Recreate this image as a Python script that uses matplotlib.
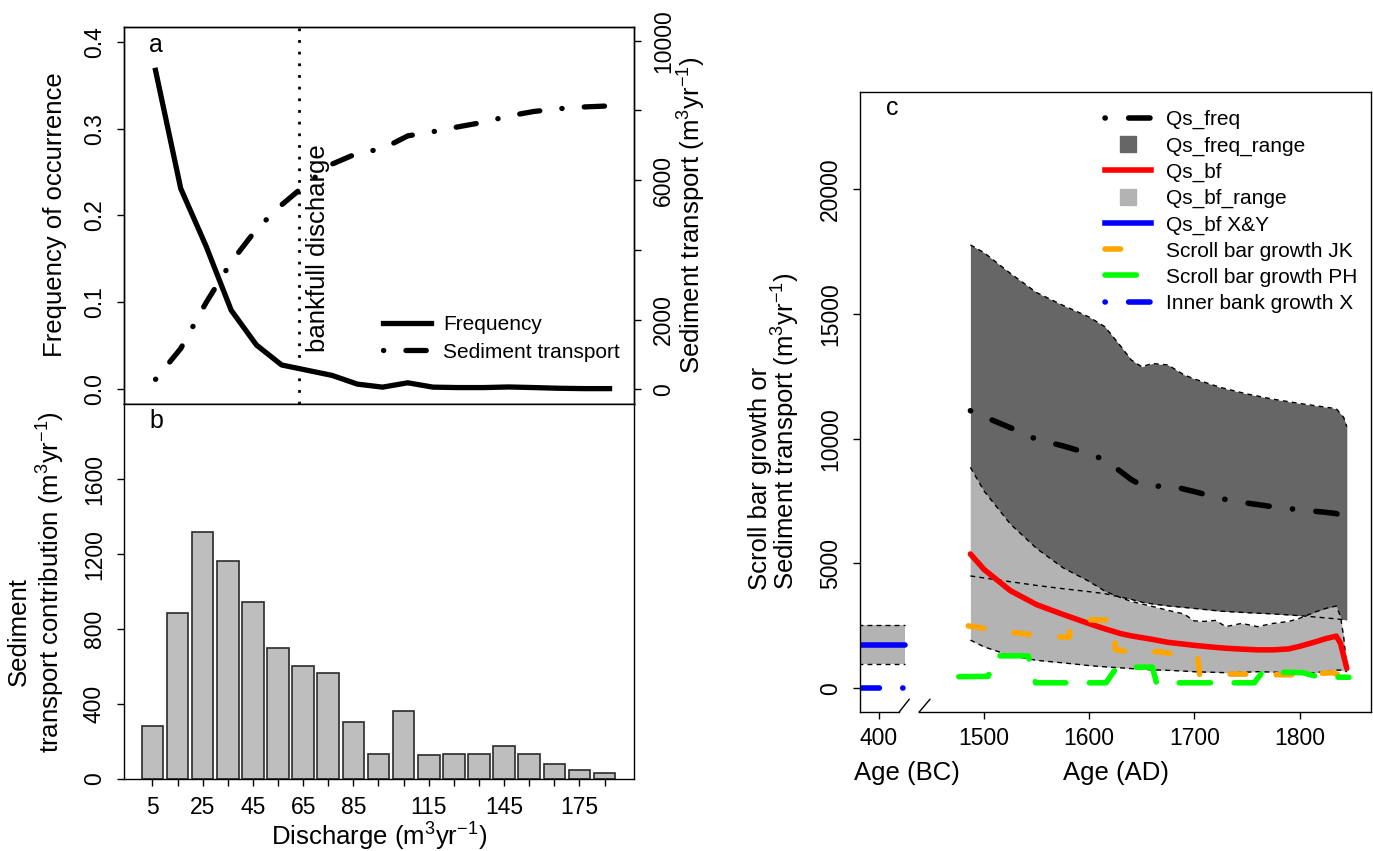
import numpy as np
import matplotlib
matplotlib.use("Agg")
import matplotlib.pyplot as plt
from matplotlib.lines import Line2D

plt.rcParams['font.family'] = ['Liberation Sans', 'DejaVu Sans']
plt.rcParams['mathtext.fontset'] = 'custom'
plt.rcParams['mathtext.rm'] = 'Liberation Sans'
plt.rcParams['mathtext.it'] = 'Liberation Sans:italic'
plt.rcParams['axes.linewidth'] = 1.0

# ---- panel a / b : discharge classes ----
discharge = [5, 15, 25, 35, 45, 55, 65, 75, 85, 95, 105, 115, 125, 135, 145, 155, 165, 175, 185]
freq = [0.367, 0.231, 0.165, 0.091, 0.051, 0.028, 0.022, 0.016, 0.006, 0.0025, 0.0075,
        0.0025, 0.002, 0.002, 0.0027, 0.002, 0.0012, 0.0008, 0.0008]
sed_cum = [285, 1170, 2480, 3650, 4590, 5290, 5900, 6460, 6770, 6900, 7270, 7390,
           7530, 7660, 7840, 7970, 8050, 8100, 8130]
sed_contrib = [283, 885, 1316, 1166, 944, 700, 603, 565, 306, 135, 364, 126,
               133, 133, 178, 133, 82, 46, 30]
bankfull = 62
xlab_b = [5, 25, 45, 65, 85, 115, 145, 175]

# ---- panel c : sediment transport through time ----
freq_years = [1487, 1500, 1525, 1550, 1575, 1600, 1615, 1630, 1640, 1650, 1660, 1675,
              1690, 1700, 1725, 1750, 1775, 1800, 1825, 1835, 1842, 1845]
qs_freq = [11120, 10880, 10440, 9970, 9710, 9400, 9140, 8680, 8360, 8130, 8070, 8140,
           7980, 7880, 7600, 7420, 7270, 7150, 7050, 7000, 6850, 6680]
qs_freq_hi = [17760, 17450, 16620, 15850, 15340, 14870, 14480, 13700, 13150, 12880, 13010,
              12950, 12560, 12390, 12050, 11790, 11580, 11410, 11260, 11200, 10850, 10480]
qs_freq_lo = [4500, 4420, 4270, 4120, 3990, 3870, 3790, 3650, 3560, 3450, 3380, 3300,
              3240, 3200, 3090, 3030, 2980, 2910, 2820, 2780, 2750, 2740]

bf_years = [1487, 1500, 1525, 1550, 1575, 1600, 1615, 1630, 1640, 1650, 1660, 1675, 1690,
            1700, 1710, 1720, 1730, 1745, 1760, 1775, 1790, 1800, 1815, 1825, 1835, 1839,
            1842, 1845]
qs_bf = [5380, 4760, 3910, 3350, 2960, 2590, 2380, 2190, 2100, 2030, 1960, 1840, 1770,
         1720, 1680, 1640, 1605, 1570, 1540, 1540, 1580, 1680, 1860, 1990, 2090, 1800,
         1300, 800]
qs_bf_hi = [8850, 7900, 6580, 5600, 4830, 4280, 3890, 3630, 3480, 3380, 3280, 3120, 2980,
            2700, 2680, 2720, 2470, 2600, 2470, 2600, 2680, 2800, 3060, 3200, 3300, 2870,
            2070, 800]
qs_bf_lo = [1930, 1660, 1310, 1120, 1020, 910, 860, 820, 790, 760, 740, 720, 690, 665,
            650, 640, 625, 640, 665, 650, 625, 625, 625, 680, 730, 730, 700, 665]

jk_years = [1485, 1505, 1530, 1555, 1581, 1583, 1623, 1625, 1643, 1667, 1685, 1703, 1705,
            1745, 1790, 1832, 1847]
jk_growth = [2500, 2370, 2220, 2100, 2040, 2740, 2740, 1550, 1430, 1470, 1335, 1300, 560,
             570, 540, 625, 370]
ph_years = [1476, 1504, 1512, 1542, 1549, 1616, 1626, 1660, 1664, 1757, 1765, 1803, 1818, 1847]
ph_growth = [465, 480, 1300, 1300, 220, 220, 830, 850, 220, 220, 665, 625, 460, 440]

bc_years = [1380, 1425]
qs_bf_xy = [1750, 1750]
qs_bf_xy_lo = [970, 970]
qs_bf_xy_hi = [2520, 2520]
inner_x = [0, 0]

# ---- layout helpers (pixel positions on a 1373 x 851 canvas) ----
W, H = 1373, 851
fig = plt.figure(figsize=(W / 100, H / 100), dpi=100)


def fx(px):
    return px / W


def fy(py):
    return 1 - py / H


def rect(l, t, r, b):
    return [fx(l), fy(b), (r - l) / W, (b - t) / H]


TICK = 16.5
LAB = 18.5
dotdash = (0, (0.05, 4.2, 3.85, 4.2))

# ---------------- panel a ----------------
ax_a = fig.add_axes(rect(124, 27, 634, 404))
ax_a.plot(discharge, freq, color='black', lw=3.8, solid_joinstyle='round',
          label='Frequency')
ax_a.axvline(bankfull, color='black', lw=2.0, linestyle=(0, (1, 3.2)))
ax_a.set_xlim(-7.5, 194.7)
ax_a.set_ylim(-0.0169, 0.4169)
ax_a.set_yticks([0, 0.1, 0.2, 0.3, 0.4])
ax_a.set_yticklabels(['0.0', '0.1', '0.2', '0.3', '0.4'])
ax_a.tick_params(axis='y', direction='out', length=5, width=1, labelsize=TICK, pad=8)
ax_a.tick_params(axis='x', bottom=False, labelbottom=False)
plt.setp(ax_a.get_yticklabels(), rotation=90, va='center')

ax_a2 = ax_a.twinx()
ax_a2.plot(discharge, sed_cum, color='black', lw=3.8, linestyle=dotdash,
           dash_capstyle='round', label='Sediment transport')
ax_a2.set_ylim(-422, 10393)
ax_a2.set_yticks([0, 2000, 4000, 6000, 8000, 10000])
ax_a2.set_yticklabels(['0', '2000', '', '6000', '', '10000'])
ax_a2.tick_params(axis='y', direction='out', length=5, width=1, labelsize=TICK, pad=8)
plt.setp(ax_a2.get_yticklabels(), rotation=90, va='center')

h_a = [Line2D([], [], color='black', lw=3.8),
       Line2D([], [], color='black', lw=3.8, linestyle=dotdash, dash_capstyle='round')]
ax_a2.legend(h_a, ['Frequency', 'Sediment transport'], loc='upper left',
             bbox_to_anchor=(fx(383), fy(315)), bbox_transform=fig.transFigure,
             frameon=False, fontsize=15, borderpad=0, borderaxespad=0,
             handlelength=2.3, handletextpad=0.6, labelspacing=0.42)

fig.text(fx(156), fy(45), 'a', fontsize=18, ha='center', va='center')
fig.text(fx(318), fy(248), 'bankfull discharge', fontsize=LAB, rotation=90,
         ha='center', va='center')
fig.text(fx(55), fy(215), 'Frequency of occurrence', fontsize=LAB, rotation=90,
         ha='center', va='center')
fig.text(fx(692), fy(215), r'Sediment transport (m$^3$yr$^{-1}$)', fontsize=LAB,
         rotation=90, ha='center', va='center')

# ---------------- panel b ----------------
ax_b = fig.add_axes(rect(124, 404, 634, 779))
ax_b.bar(discharge, sed_contrib, width=8.6, color='#BEBEBE', edgecolor='#2b2b2b',
         linewidth=1.2)
ax_b.set_xlim(-6.3, 196.7)
ax_b.set_ylim(0, 2002)
ax_b.set_yticks([0, 400, 800, 1200, 1600])
ax_b.set_xticks(discharge)
ax_b.set_xticklabels([str(d) if d in xlab_b else '' for d in discharge])
ax_b.tick_params(direction='out', length=5, width=1, labelsize=TICK)
ax_b.tick_params(axis='y', pad=8)
ax_b.tick_params(axis='x', pad=7)
plt.setp(ax_b.get_yticklabels(), rotation=90, va='center')

fig.text(fx(156), fy(421), 'b', fontsize=18, ha='center', va='center')
fig.text(fx(18.5), fy(632), 'Sediment', fontsize=LAB, rotation=90, ha='center', va='center')
fig.text(fx(50.8), fy(582), r'transport contribution (m$^3$yr$^{-1}$)', fontsize=LAB,
         rotation=90, ha='center', va='center')
fig.text(fx(379), fy(837), r'Discharge (m$^3$yr$^{-1}$)', fontsize=LAB,
         ha='center', va='center')

# ---------------- panel c ----------------
ax_c = fig.add_axes(rect(860, 92, 1371, 712))
ax_c.set_xlim(1382, 1868)
ax_c.set_ylim(-949, 23885)

ax_c.fill_between(freq_years, qs_freq_lo, qs_freq_hi, color='#666666', lw=0)
ax_c.fill_between(bf_years, qs_bf_lo, qs_bf_hi, color='#B3B3B3', lw=0)
ax_c.fill_between(bc_years, qs_bf_xy_lo, qs_bf_xy_hi, color='#B3B3B3', lw=0)
thin = dict(color='black', lw=1.0, linestyle=(0, (3.5, 3)))
for ys in (qs_freq_hi, qs_freq_lo):
    ax_c.plot(freq_years, ys, **thin)
for ys in (qs_bf_hi, qs_bf_lo):
    ax_c.plot(bf_years, ys, **thin)
for ys in (qs_bf_xy_lo, qs_bf_xy_hi):
    ax_c.plot(bc_years, ys, **thin)

ax_c.plot(freq_years, qs_freq, color='black', lw=4, linestyle=dotdash,
          dash_capstyle='round')
ax_c.plot(bf_years, qs_bf, color='#FF0000', lw=4, solid_capstyle='round')
ax_c.plot(jk_years, jk_growth, color='#FFA500', lw=4, linestyle=(0, (2.8, 5.5)),
          dash_capstyle='round')
ax_c.plot(ph_years, ph_growth, color='#00FF00', lw=4, linestyle=(0, (5.65, 4.24)),
          dash_capstyle='round')
ax_c.plot(bc_years, qs_bf_xy, color='#0000FF', lw=4, solid_capstyle='round')
ax_c.plot(bc_years, inner_x, color='#0000FF', lw=4, linestyle=(4.25, (0.05, 4.2, 3.85, 4.2)),
          dash_capstyle='round')

ax_c.set_yticks([0, 5000, 10000, 15000, 20000])
ax_c.set_xticks([1400, 1500, 1600, 1700, 1800])
ax_c.set_xticklabels(['400', '1500', '1600', '1700', '1800'])
ax_c.tick_params(direction='out', length=5, width=1, labelsize=TICK)
ax_c.tick_params(axis='y', pad=8)
ax_c.tick_params(axis='x', pad=6)
plt.setp(ax_c.get_yticklabels(), rotation=90, va='center')

# broken x axis between the BC and AD parts
ax_c.spines['bottom'].set_visible(False)
y0 = -949
ax_c.plot([1382, 1419.3], [y0, y0], color='black', lw=1.0, clip_on=False)
ax_c.plot([1438.3, 1868], [y0, y0], color='black', lw=1.0, clip_on=False)
ax_c.plot([1419.3, 1428.8], [y0, -441], color='black', lw=1.0, clip_on=False)
ax_c.plot([1438.3, 1448.5], [y0, -441], color='black', lw=1.0, clip_on=False)

h_c = [Line2D([], [], color='black', lw=4, linestyle=dotdash, dash_capstyle='round'),
       Line2D([], [], color='#666666', marker='s', markersize=11, linestyle='none'),
       Line2D([], [], color='#FF0000', lw=4),
       Line2D([], [], color='#B3B3B3', marker='s', markersize=11, linestyle='none'),
       Line2D([], [], color='#0000FF', lw=4),
       Line2D([], [], color='#FFA500', lw=4, linestyle=(0, (2.8, 5.5)), dash_capstyle='round'),
       Line2D([], [], color='#00FF00', lw=4, linestyle=(0, (5.65, 4.24)), dash_capstyle='round'),
       Line2D([], [], color='#0000FF', lw=4, linestyle=dotdash, dash_capstyle='round')]
l_c = ['Qs_freq', 'Qs_freq_range', 'Qs_bf', 'Qs_bf_range', 'Qs_bf X&Y',
       'Scroll bar growth JK', 'Scroll bar growth PH', 'Inner bank growth X']
ax_c.legend(h_c, l_c, loc='upper left', bbox_to_anchor=(fx(1105), fy(110)),
            bbox_transform=fig.transFigure, frameon=False, fontsize=15, borderpad=0,
            borderaxespad=0, handlelength=2.2, handletextpad=0.75, labelspacing=0.34)

fig.text(fx(892), fy(108), 'c', fontsize=18, ha='center', va='center')
fig.text(fx(760), fy(478), 'Scroll bar growth or', fontsize=LAB, rotation=90,
         ha='center', va='center')
fig.text(fx(786), fy(431), r'Sediment transport (m$^3$yr$^{-1}$)', fontsize=LAB,
         rotation=90, ha='center', va='center')
fig.text(fx(907), fy(773), 'Age (BC)', fontsize=LAB, ha='center', va='center')
fig.text(fx(1116), fy(773), 'Age (AD)', fontsize=LAB, ha='center', va='center')

fig.savefig('out.png', dpi=100)
